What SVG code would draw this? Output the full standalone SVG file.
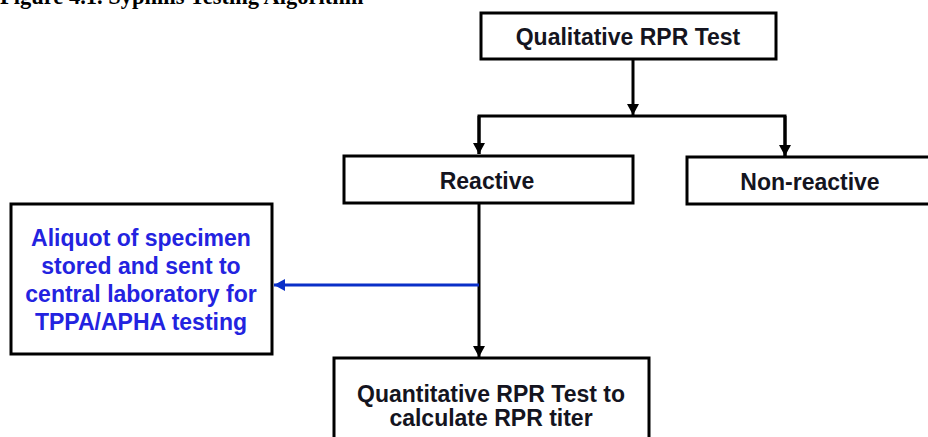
<svg xmlns="http://www.w3.org/2000/svg" width="928" height="437" viewBox="0 0 928 437">
<style>
.box{fill:#fff;stroke:#000;stroke-width:3}
.t{font-family:"Liberation Sans",Arial,sans-serif;font-weight:bold;font-size:23px;fill:#141420;text-anchor:middle}
.b{fill:#2323e0}
.c{fill:none;stroke:#000;stroke-width:3}
.cb{fill:none;stroke:#0a2fc8;stroke-width:3}
.title{font-family:"Liberation Serif","Times New Roman",serif;font-weight:bold;font-size:22.5px;fill:#000}
</style>
<defs>
<marker id="ah" markerUnits="userSpaceOnUse" markerWidth="13" markerHeight="12" refX="11" refY="6" orient="auto" viewBox="0 0 13 12">
<path d="M0,0 L11,6 L0,12 z" fill="#000"/>
</marker>
<marker id="ahb" markerUnits="userSpaceOnUse" markerWidth="13" markerHeight="12" refX="11" refY="6" orient="auto" viewBox="0 0 13 12">
<path d="M0,0 L11,6 L0,12 z" fill="#0a2fc8"/>
</marker>
</defs>
<text class="title" x="0" y="4">Figure 4.1. Syphilis Testing Algorithm</text>
<g id="connectors">
<line class="c" x1="633" y1="59" x2="633" y2="115" marker-end="url(#ah)"/>
<polyline class="c" points="479,154 479,116 785,116 785,156"/>
<line class="c" x1="479" y1="116" x2="479" y2="154" marker-end="url(#ah)"/>
<line class="c" x1="785" y1="116" x2="785" y2="156" marker-end="url(#ah)"/>
<line class="c" x1="479" y1="203" x2="479" y2="357" marker-end="url(#ah)"/>
<line class="cb" x1="479" y1="285" x2="274" y2="285" marker-end="url(#ahb)"/>
</g>
<g id="qualitative">
<rect class="box" x="481" y="13" width="295" height="46"/>
<text class="t" x="628" y="45">Qualitative RPR Test</text>
</g>
<g id="reactive">
<rect class="box" x="344" y="156" width="289" height="47"/>
<text class="t" x="487" y="189">Reactive</text>
</g>
<g id="nonreactive">
<rect class="box" x="687" y="157" width="250" height="47"/>
<text class="t" x="810" y="190">Non-reactive</text>
</g>
<g id="aliquot">
<rect class="box" x="11" y="204" width="261" height="150"/>
<text class="t b" x="141" y="246">Aliquot of specimen</text>
<text class="t b" x="141" y="274">stored and sent to</text>
<text class="t b" x="141" y="302">central laboratory for</text>
<text class="t b" x="141" y="330">TPPA/APHA testing</text>
</g>
<g id="quantitative">
<rect class="box" x="334" y="358" width="315" height="90"/>
<text class="t" x="491" y="402">Quantitative RPR Test to</text>
<text class="t" x="491" y="426">calculate RPR titer</text>
</g>
</svg>
